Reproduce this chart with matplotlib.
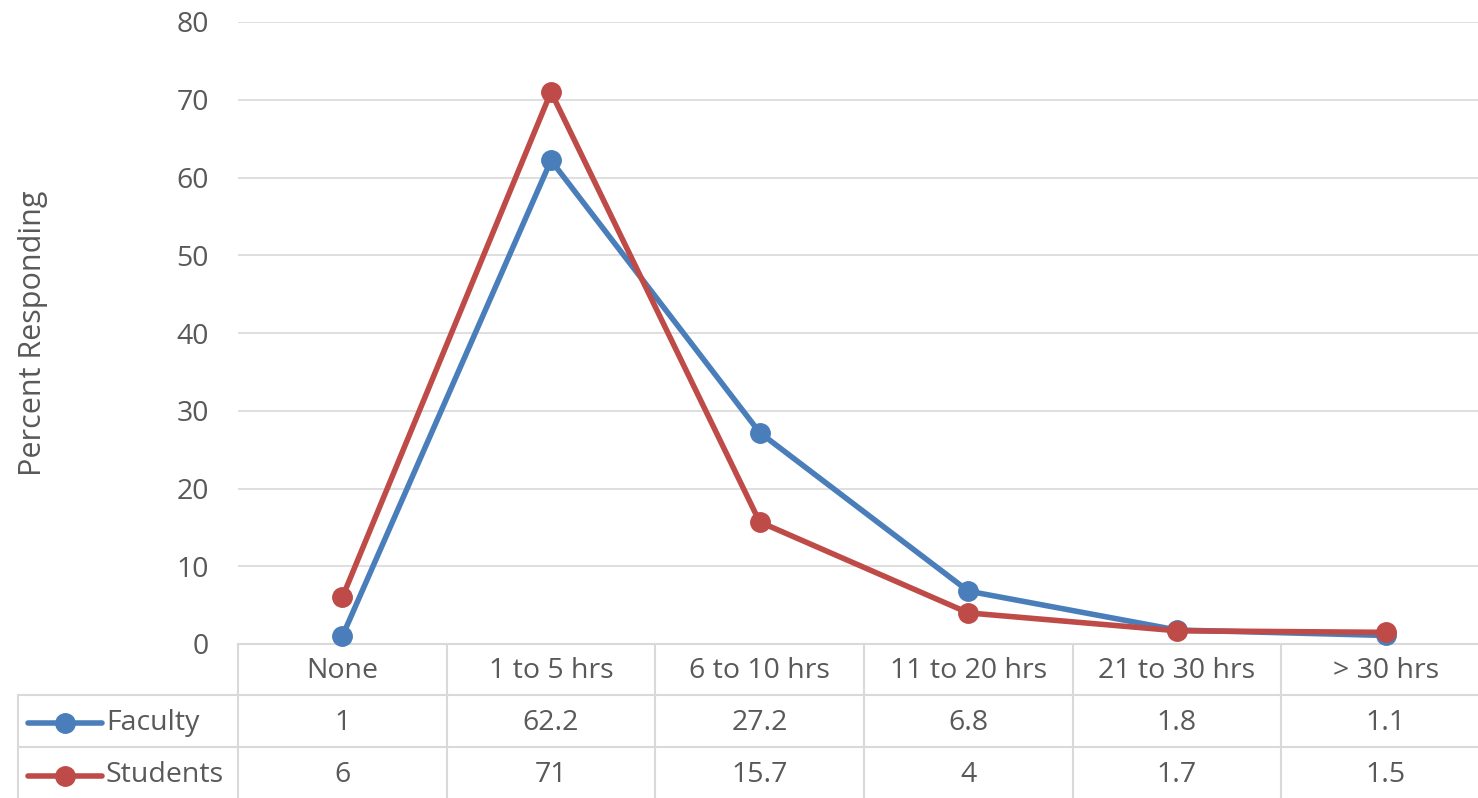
import matplotlib
matplotlib.use("Agg")
import matplotlib.pyplot as plt
from matplotlib.lines import Line2D

categories = ["None", "1 to 5 hrs", "6 to 10 hrs", "11 to 20 hrs", "21 to 30 hrs", "> 30 hrs"]
faculty = [1, 62.2, 27.2, 6.8, 1.8, 1.1]
students = [6, 71, 15.7, 4, 1.7, 1.5]
series_names = ["Faculty", "Students"]
y_ticks = [0, 10, 20, 30, 40, 50, 60, 70, 80]

BLUE = "#4a7ebb"
RED = "#be4b48"
GRID = "#d9d9d9"
TEXT = "#595959"
FS = 20.5

plt.rcParams["font.family"] = ["Open Sans", "DejaVu Sans"]

W, H = 1478, 798
fig = plt.figure(figsize=(W / 100, H / 100), dpi=100)

# plot area in pixel terms
left_px, right_px = 238, 1490
top_px, bottom_px = 22, 644
ax = fig.add_axes([left_px / W, (H - bottom_px) / H,
                   (right_px - left_px) / W, (bottom_px - top_px) / H])

x = list(range(len(categories)))
series = [faculty, students]
colors = [BLUE, RED]
for vals, c in zip(series, colors):
    ax.plot(x, vals, color=c, lw=4, marker="o", ms=14,
            solid_capstyle="round", solid_joinstyle="round", clip_on=False, zorder=3)

ax.set_xlim(-0.5, len(categories) - 0.5)
ax.set_ylim(0, 80)
ax.set_yticks(y_ticks)
ax.set_xticks([])
ax.grid(axis="y", color=GRID, lw=1.2)
ax.set_axisbelow(True)
for s in ["top", "right", "left"]:
    ax.spines[s].set_visible(False)
ax.spines["bottom"].set_color(GRID)
ax.spines["bottom"].set_linewidth(1.5)
ax.tick_params(axis="y", length=0, pad=21, labelsize=FS, labelcolor=TEXT)
ax.set_ylabel("Percent Responding", fontsize=22, color=TEXT)
ax.yaxis.set_label_coords(-0.152, 0.5)

# data table below the plot
def fx(px):
    return px / W
def fy(py):
    return (H - py) / H

row_edges = [644, 695, 747, 800]
col_edges = [left_px + k * (right_px - left_px) / len(categories) for k in range(len(categories) + 1)]
table_left = 18

line_kw = dict(color=GRID, lw=1.5, transform=fig.transFigure, clip_on=False)
# horizontal rules
for r in row_edges[1:]:
    fig.add_artist(Line2D([fx(table_left), fx(right_px)], [fy(r), fy(r)], **line_kw))
# vertical rules
fig.add_artist(Line2D([fx(table_left), fx(table_left)], [fy(row_edges[1]), fy(row_edges[-1])], **line_kw))
for cx in col_edges:
    fig.add_artist(Line2D([fx(cx), fx(cx)], [fy(row_edges[0]), fy(row_edges[-1])], **line_kw))

def row_center(i):
    return (row_edges[i] + row_edges[i + 1]) / 2 + 2

for k, cat in enumerate(categories):
    cx = (col_edges[k] + col_edges[k + 1]) / 2
    fig.text(fx(cx), fy(row_center(0)), cat, ha="center", va="center", fontsize=FS, color=TEXT)
    for i, vals in enumerate(series):
        fig.text(fx(cx), fy(row_center(i + 1)), f"{vals[k]:g}", ha="center", va="center",
                 fontsize=FS, color=TEXT)

# legend keys inside the table
for i, (name, c) in enumerate(zip(series_names, colors)):
    yc = fy(row_center(i + 1))
    fig.add_artist(Line2D([fx(28), fx(102)], [yc, yc], color=c, lw=4,
                          solid_capstyle="round", transform=fig.transFigure))
    fig.add_artist(Line2D([fx(65)], [yc], color=c, marker="o", ms=14, lw=0,
                          transform=fig.transFigure))
    fig.text(fx(106), yc, name, ha="left", va="center", fontsize=FS, color=TEXT)

fig.savefig("out.png", dpi=100)
